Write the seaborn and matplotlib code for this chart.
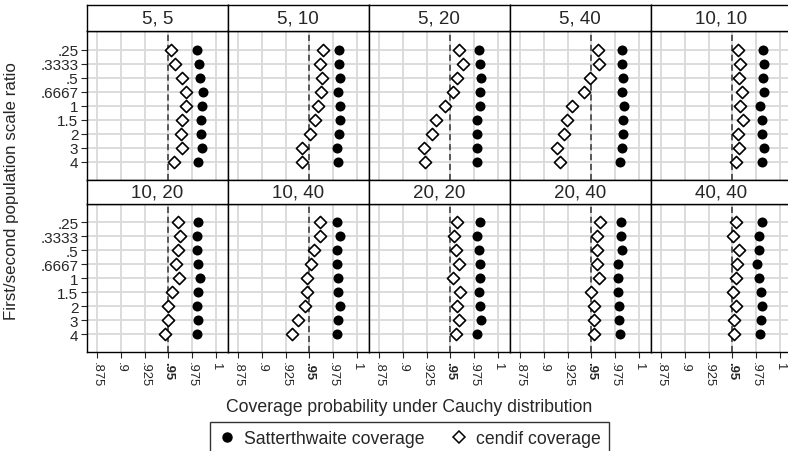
import matplotlib
matplotlib.use("Agg")
import matplotlib.pyplot as plt
import pandas as pd
import seaborn as sns

# ---- data -------------------------------------------------------------
ratios = [".25", ".3333", ".5", ".6667", "1", "1.5", "2", "3", "4"]
panel_titles = ["5, 5", "5, 10", "5, 20", "5, 40", "10, 10",
                "10, 20", "10, 40", "20, 20", "20, 40", "40, 40"]

sat_5_5 = [.980, .982, .983, .986, .985, .9845, .984, .985, .9817]
cen_5_5 = [.9528, .9574, .9641, .9687, .9687, .9641, .9634, .9641, .9563]
sat_5_10 = [.981, .9817, .9827, .9799, .9827, .982, .9817, .9792, .9806]
cen_5_10 = [.9641, .9613, .9634, .9627, .9588, .9556, .9511, .9419, .9419]
sat_5_20 = [.9803, .981, .982, .9813, .981, .9778, .9782, .9782, .9778]
cen_5_20 = [.9588, .963, .9567, .9525, .9444, .9349, .9307, .9218, .9236]
sat_5_40 = [.9824, .9827, .9834, .9827, .9841, .9834, .9834, .9824, .9806]
cen_5_40 = [.957, .9577, .9482, .9419, .9299, .9247, .9211, .9141, .9166]
sat_10_10 = [.9827, .9834, .9827, .9834, .9792, .9817, .9817, .9834, .981]
cen_10_10 = [.9563, .9577, .957, .9606, .9577, .9613, .9563, .957, .9542]
sat_10_20 = [.9817, .9799, .9799, .981, .9838, .981, .9803, .981, .9803]
cen_10_20 = [.9606, .9623, .9599, .9581, .9616, .9539, .9493, .950, .9468]
sat_10_40 = [.9792, .9824, .9792, .9789, .9799, .9806, .9824, .9799, .9792]
cen_10_40 = [.9616, .9616, .9546, .9518, .9475, .9472, .9458, .9377, .9313]
sat_20_20 = [.9813, .9782, .9796, .9817, .9813, .9806, .9817, .9824, .9782]
cen_20_20 = [.9567, .9535, .956, .9595, .9532, .9606, .9567, .9588, .956]
sat_20_40 = [.9817, .9817, .9824, .9775, .9782, .9775, .9792, .9792, .9799]
cen_20_40 = [.9588, .956, .956, .9563, .9577, .9493, .9528, .9528, .9528]
sat_40_40 = [.9817, .9775, .9775, .9764, .9782, .9806, .981, .9799, .9792]
cen_40_40 = [.9535, .9507, .957, .9546, .9542, .9507, .9535, .9518, .9518]

sat_series = [sat_5_5, sat_5_10, sat_5_20, sat_5_40, sat_10_10,
              sat_10_20, sat_10_40, sat_20_20, sat_20_40, sat_40_40]
cen_series = [cen_5_5, cen_5_10, cen_5_20, cen_5_40, cen_10_10,
              cen_10_20, cen_10_40, cen_20_20, cen_20_40, cen_40_40]

x_ticks = [.875, .9, .925, .95, .975, 1]
x_ticklabels = [".875", ".9", ".925", ".95", ".975", "1"]

# ---- style ------------------------------------------------------------
sns.set_style("white")
plt.rcParams["font.family"] = ["Liberation Sans", "DejaVu Sans"]

W, H = 788, 452
fig = plt.figure(figsize=(W / 100, H / 100), dpi=100)

panel_w = 141.0
left0 = 86.7
rows = [  # (plot top, plot bottom, strip top)
    (32.3, 180.7, 6.0),
    (205.0, 353.3, 180.7),
]

def fx(px):
    return px / W

def fy(py):
    return 1 - py / H

for i, title in enumerate(panel_titles):
    r, c = divmod(i, 5)
    ptop, pbot, stop = rows[r]
    l = left0 + panel_w * c
    ax = fig.add_axes([fx(l), fy(pbot), panel_w / W, (pbot - ptop) / H])
    sax = fig.add_axes([fx(l), fy(ptop), panel_w / W, (ptop - stop) / H])

    df = pd.DataFrame({
        "ratio": ratios,
        "sat": sat_series[i],
        "cen": cen_series[i],
    })

    ax.set_axisbelow(True)
    sns.scatterplot(data=df, x="sat", y="ratio", ax=ax, marker="o",
                    s=52, color="black", edgecolor="black", linewidth=0,
                    zorder=4, legend=False)
    sns.scatterplot(data=df, x="cen", y="ratio", ax=ax, marker="D",
                    s=38, facecolor="white", edgecolor="black",
                    linewidth=1.2, zorder=5, legend=False)
    ax.axvline(0.95, color="#333333", lw=1.1, ls=(0, (4, 2.5)), zorder=3)

    ax.set_xlim(0.8638, 1.0125)
    ax.set_ylim(8 + 1.29, -1.31)
    ax.set_xticks(x_ticks)
    ax.set_yticks(range(len(ratios)))
    ax.grid(True, color="#d9d9d9", lw=1.3)
    ax.set_xlabel("")
    ax.set_ylabel("")
    for sp in ax.spines.values():
        sp.set_color("black")
        sp.set_linewidth(1.0)

    if c == 0:
        ax.set_yticklabels(ratios, fontsize=11)
        ax.tick_params(axis="y", length=4, width=0.8, pad=2, left=True)
    else:
        ax.set_yticklabels([])
        ax.tick_params(axis="y", length=0)

    if r == 1:
        ax.set_xticklabels(x_ticklabels, rotation=270, fontsize=9.4,
                           va="top", ha="center")
        for lab in ax.get_xticklabels():
            if lab.get_text() == ".95":
                lab.set_fontweight("bold")
        ax.tick_params(axis="x", length=4, width=0.8, pad=2, bottom=True)
    else:
        ax.set_xticklabels([])
        ax.tick_params(axis="x", length=0)

    sax.set_xticks([])
    sax.set_yticks([])
    sax.set_facecolor("white")
    for sp in sax.spines.values():
        sp.set_color("black")
        sp.set_linewidth(1.0)
    sax.text(0.5, 0.5, title, ha="center", va="center", fontsize=13.5,
             transform=sax.transAxes)

fig.text(fx(409), fy(408), "Coverage probability under Cauchy distribution",
         ha="center", va="center", fontsize=12.7)
fig.text(fx(12), fy(191), "First/second population scale ratio",
         ha="center", va="center", rotation=90, fontsize=12.2)

handles = [
    plt.Line2D([], [], marker="o", color="black", ls="none", markersize=6.5),
    plt.Line2D([], [], marker="D", markerfacecolor="white",
               markeredgecolor="black", markeredgewidth=1.1, ls="none",
               markersize=6),
]
leg = fig.legend(handles, ["Satterthwaite coverage", "cendif coverage"],
                 loc="upper center", bbox_to_anchor=(fx(409.5), fy(423)),
                 ncol=2, fontsize=12.7, frameon=True, fancybox=False,
                 handletextpad=0.45, columnspacing=1.5, handlelength=1.0,
                 borderpad=0.45, borderaxespad=0)
leg.get_frame().set_edgecolor("black")
leg.get_frame().set_linewidth(1.0)

fig.savefig("out.png", dpi=100)
